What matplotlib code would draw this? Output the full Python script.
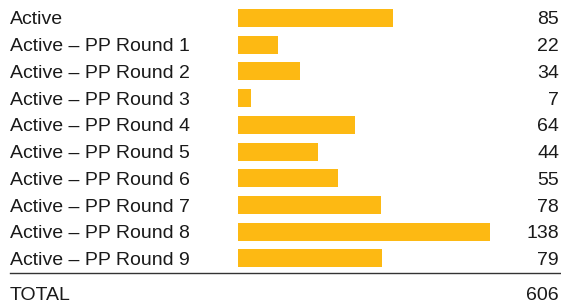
import matplotlib.pyplot as plt
import matplotlib.transforms as mtransforms
from matplotlib.lines import Line2D

plt.rcParams['font.family'] = ['Liberation Sans', 'DejaVu Sans']
plt.rcParams['font.size'] = 14

labels = ["Active", "Active – PP Round 1", "Active – PP Round 2", "Active – PP Round 3",
          "Active – PP Round 4", "Active – PP Round 5", "Active – PP Round 6",
          "Active – PP Round 7", "Active – PP Round 8", "Active – PP Round 9"]
values = [85, 22, 34, 7, 64, 44, 55, 78, 138, 79]
total_label = "TOTAL"
total_value = 606

W, H = 561, 304
fig = plt.figure(figsize=(W / 100, H / 100), dpi=100)

# bars area starts at x=238px, 1.827 px per unit
x0 = 238
ppu = 1.827
row = 26.72
ax = fig.add_axes([x0 / W, 0, 1 - x0 / W, 1])
ax.set_xlim(0, (W - x0) / ppu)
ax.set_ylim((H - 18) / row, -18 / row)
ax.axis('off')

ys = list(range(len(values)))
ax.barh(ys, values, height=0.674, color='#FDB913', edgecolor='none')

tr = mtransforms.blended_transform_factory(fig.transFigure, ax.transData)
for y, lab, v in zip(ys, labels, values):
    ax.text(10 / W, y, lab, transform=tr, ha='left', va='center_baseline', color='#1a1a1a')
    ax.text(559 / W, y, str(v), transform=tr, ha='right', va='center_baseline', color='#1a1a1a')

y_line = (273.3 - 18) / row
ax.add_line(Line2D([10 / W, 1], [y_line, y_line], transform=tr, color='#333333',
                   lw=1.0, clip_on=False))

y_tot = (294 - 18) / row
ax.text(10 / W, y_tot, total_label, transform=tr, ha='left', va='center_baseline', color='#1a1a1a')
ax.text(559 / W, y_tot, str(total_value), transform=tr, ha='right', va='center_baseline', color='#1a1a1a')

fig.savefig("out.png", dpi=100)
plt.close(fig)
